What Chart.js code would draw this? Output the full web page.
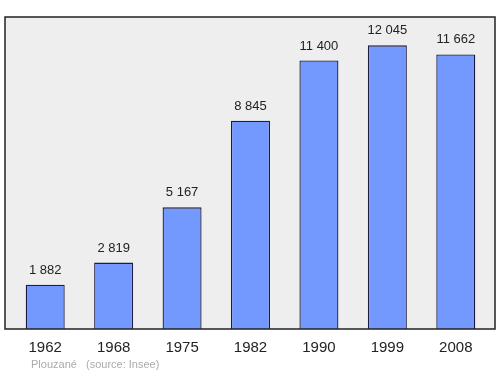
<!DOCTYPE html>
<html>
<head>
<meta charset="utf-8">
<script src="https://cdn.jsdelivr.net/npm/chart.js@4/dist/chart.umd.min.js"></script>
<style>
  html, body { margin: 0; padding: 0; background: #fff; }
  #wrap { width: 500px; height: 374px; }
</style>
</head>
<body>
<div id="wrap"><canvas id="myChart" width="500" height="374"></canvas></div>
<script>
// population data
const years = ["1962", "1968", "1975", "1982", "1990", "1999", "2008"];
const population = [1882, 2819, 5167, 8845, 11400, 12045, 11662];
const place = "Plouzané";
const source = "(source: Insee)";

const fmt = v => String(v).replace(/\B(?=(\d{3})+(?!\d))/g, " ");

// grey frame behind the bars
const framePlugin = {
    id: "frame",
    beforeDatasetsDraw(chart) {
        const { ctx, chartArea: a } = chart;
        ctx.save();
        ctx.fillStyle = "#eeeeee";
        ctx.fillRect(a.left - 6, a.top, a.right - a.left + 11, a.bottom - a.top);
        ctx.restore();
    },
    afterDatasetsDraw(chart) {
        const { ctx, chartArea: a } = chart;
        ctx.save();
        ctx.strokeStyle = "#222";
        ctx.lineWidth = 1.5;
        ctx.strokeRect(a.left - 6, a.top, a.right - a.left + 11, a.bottom - a.top);

        // value labels above bars
        ctx.fillStyle = "#222";
        ctx.font = "13px 'Liberation Sans', Arial, sans-serif";
        ctx.textAlign = "center";
        ctx.textBaseline = "bottom";
        chart.getDatasetMeta(0).data.forEach((bar, i) => {
            ctx.fillText(fmt(population[i]), bar.x, bar.y - 8);
        });

        // footer
        ctx.fillStyle = "#aaaaaa";
        ctx.font = "11px 'Liberation Sans', Arial, sans-serif";
        ctx.textAlign = "left";
        ctx.textBaseline = "middle";
        ctx.fillText(place, 31, 365);
        ctx.fillText(source, 86, 365);
        ctx.restore();
    }
};

new Chart(document.getElementById("myChart").getContext("2d"), {
    type: "bar",
    data: {
        labels: years,
        datasets: [{
            data: population,
            backgroundColor: "#7399ff",
            borderColor: "#1c1c40",
            borderWidth: 1.3,
            categoryPercentage: 1,
            barPercentage: 0.57
        }]
    },
    options: {
        responsive: false,
        animation: false,
        layout: { padding: { left: 11, right: 10, top: 17, bottom: 15 } },
        plugins: { legend: { display: false }, tooltip: { enabled: false } },
        scales: {
            x: {
                grid: { display: false },
                border: { display: false },
                ticks: {
                    color: "#222",
                    padding: 2,
                    font: { size: 15, family: "'Liberation Sans', Arial, sans-serif" }
                }
            },
            y: {
                display: false,
                min: 0,
                max: 13250
            }
        }
    },
    plugins: [framePlugin]
});
</script>
</body>
</html>
